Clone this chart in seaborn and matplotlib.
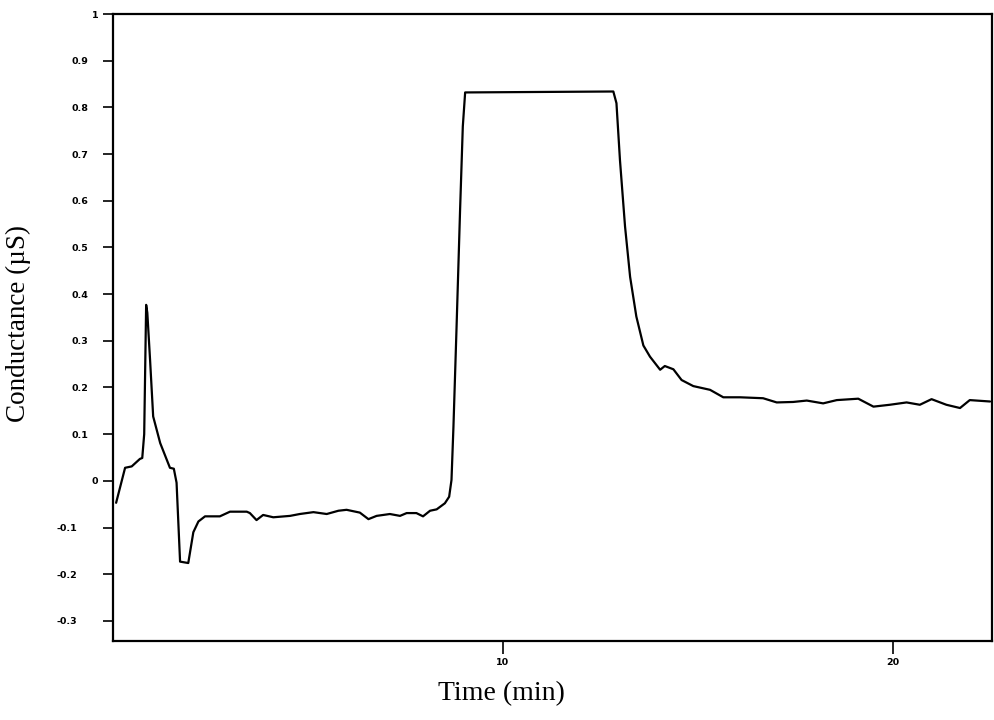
import matplotlib
matplotlib.use("Agg")
import matplotlib.pyplot as plt
import matplotlib.transforms as mtransforms
import seaborn as sns
import pandas as pd

time_min = [0.08, 0.31, 0.48, 0.69, 0.75, 0.80, 0.85, 0.88, 0.95, 1.03, 1.21, 1.46, 1.56, 1.63, 1.72,
            1.93, 2.06, 2.19, 2.36, 2.74, 3.00, 3.43, 3.51, 3.68, 3.85, 4.11, 4.54, 4.79, 5.14, 5.48,
            5.78, 5.99, 6.33, 6.55, 6.76, 7.10, 7.36, 7.53, 7.78, 7.95, 8.13, 8.30, 8.51, 8.62, 8.68,
            8.73, 8.81, 8.90, 8.97, 9.03, 12.83, 12.91, 13.00, 13.13, 13.26, 13.42, 13.60, 13.77,
            14.03, 14.15, 14.37, 14.58, 14.88, 15.31, 15.65, 16.08, 16.67, 17.02, 17.44, 17.79,
            18.21, 18.56, 19.11, 19.50, 19.92, 20.35, 20.69, 20.99, 21.37, 21.72, 21.97, 22.49]
conductance = [-0.047, 0.028, 0.031, 0.047, 0.049, 0.100, 0.377, 0.360, 0.260, 0.138, 0.081, 0.028,
               0.026, -0.004, -0.173, -0.176, -0.110, -0.087, -0.076, -0.076, -0.066, -0.066, -0.069,
               -0.084, -0.073, -0.078, -0.075, -0.071, -0.067, -0.071, -0.064, -0.062, -0.068, -0.082,
               -0.075, -0.071, -0.075, -0.069, -0.069, -0.076, -0.064, -0.061, -0.048, -0.034, 0.002,
               0.116, 0.330, 0.580, 0.759, 0.832, 0.834, 0.809, 0.687, 0.545, 0.437, 0.352, 0.290,
               0.266, 0.238, 0.246, 0.239, 0.216, 0.203, 0.195, 0.179, 0.179, 0.177, 0.168, 0.169,
               0.172, 0.166, 0.173, 0.176, 0.159, 0.163, 0.168, 0.163, 0.175, 0.163, 0.156, 0.173, 0.170]

x_ticks = [10, 20]
y_ticks = [-0.3, -0.2, -0.1, 0, 0.1, 0.2, 0.3, 0.4, 0.5, 0.6, 0.7, 0.8, 0.9, 1]
y_tick_labels = ["-0.3", "-0.2", "-0.1", "0", "0.1", "0.2", "0.3", "0.4", "0.5", "0.6", "0.7", "0.8", "0.9", "1"]

df = pd.DataFrame({"Time (min)": time_min, "Conductance": conductance})

sns.set_style("ticks")
fig = plt.figure(figsize=(9.94, 7.2), dpi=100)
ax = fig.add_axes([113 / 994, 1 - 641 / 720, (992 - 113) / 994, (641 - 14) / 720])
sns.lineplot(data=df, x="Time (min)", y="Conductance", ax=ax, color="black", linewidth=1.6)

ax.set_xlim(0, 22.54)
ax.set_ylim(-0.343, 1.0)
ax.set_xticks(x_ticks)
ax.set_xticklabels([str(v) for v in x_ticks], fontsize=6.8, fontweight="bold", family="DejaVu Sans")
ax.set_yticks(y_ticks)
ax.set_yticklabels(y_tick_labels, fontsize=6.8, fontweight="bold", family="DejaVu Sans")
ax.tick_params(axis="y", length=7.2, width=1.2, direction="out", pad=3.5, colors="black")
ax.tick_params(axis="x", length=9.5, width=1.2, direction="out", pad=2.5, colors="black")

# the original's tick labels are not aligned: shift decimal labels leftwards
for lbl in ax.get_yticklabels():
    t = lbl.get_text()
    if t.startswith("-0."):
        dx = -21
    elif t.startswith("0."):
        dx = -10
    else:
        dx = 0
    lbl.set_transform(lbl.get_transform() + mtransforms.ScaledTranslation(dx / 100, 0, fig.dpi_scale_trans))

for s in ax.spines.values():
    s.set_visible(True)
    s.set_linewidth(1.6)
    s.set_color("black")

ax.set_xlabel("Time (min)", family="Liberation Serif", fontsize=20, color="black")
ax.xaxis.set_label_coords((501 - 113) / 879, -(694 - 641) / 627, transform=ax.transAxes)
ax.xaxis.label.set_va("center")
ax.set_ylabel("Conductance (\u00b5S)", family="Liberation Serif", fontsize=19.5, color="black")
ax.yaxis.set_label_coords(-(113 - 18) / 879, (641 - 324) / 627, transform=ax.transAxes)
ax.yaxis.label.set_va("center")

fig.savefig("out.png", dpi=100)
